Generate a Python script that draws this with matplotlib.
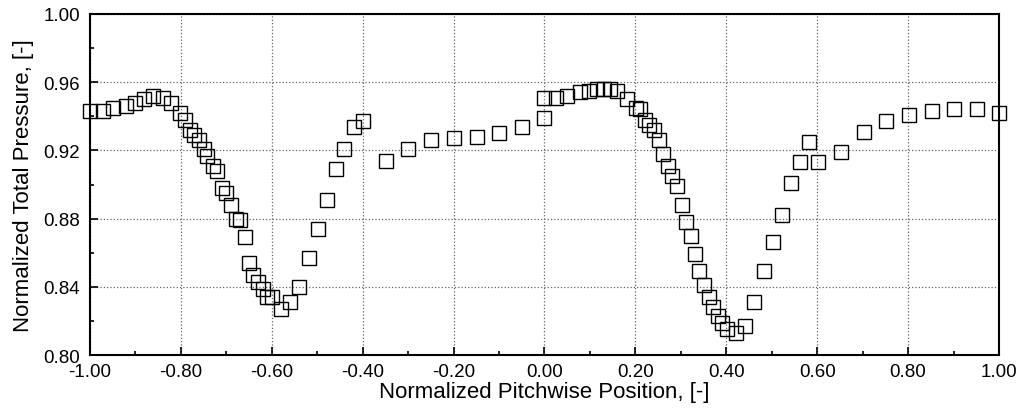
import numpy as np
import matplotlib.pyplot as plt
from matplotlib.ticker import MultipleLocator, FormatStrFormatter

plt.rcParams['font.family'] = ['Liberation Sans', 'DejaVu Sans']

pos = [-1.000, -0.971, -0.950, -0.921, -0.901, -0.880, -0.861, -0.840, -0.822, -0.802,
       -0.790, -0.780, -0.770, -0.760, -0.750, -0.742, -0.730, -0.720, -0.710, -0.700,
       -0.690, -0.679, -0.670, -0.659, -0.650, -0.641, -0.631, -0.620, -0.610, -0.599,
       -0.580, -0.559, -0.539, -0.519, -0.499, -0.479, -0.459, -0.440, -0.419, -0.399,
       -0.349, -0.300, -0.249, -0.200, -0.149, -0.099, -0.049, 0.000, 0.000, 0.026,
       0.050, 0.078, 0.099, 0.115, 0.130, 0.145, 0.160, 0.181, 0.202, 0.211,
       0.222, 0.231, 0.242, 0.251, 0.261, 0.271, 0.281, 0.292, 0.302, 0.312,
       0.322, 0.332, 0.341, 0.352, 0.361, 0.370, 0.381, 0.390, 0.401, 0.421,
       0.441, 0.461, 0.482, 0.502, 0.522, 0.542, 0.562, 0.582, 0.602, 0.652,
       0.702, 0.752, 0.802, 0.852, 0.902, 0.952, 1.000]
ptot = [0.943, 0.943, 0.945, 0.946, 0.948, 0.950, 0.952, 0.951, 0.948, 0.942,
        0.938, 0.932, 0.929, 0.926, 0.921, 0.917, 0.911, 0.908, 0.898, 0.895,
        0.888, 0.880, 0.879, 0.869, 0.854, 0.847, 0.843, 0.839, 0.834, 0.834,
        0.827, 0.831, 0.840, 0.857, 0.874, 0.891, 0.909, 0.921, 0.934, 0.937,
        0.914, 0.921, 0.926, 0.927, 0.928, 0.930, 0.934, 0.939, 0.951, 0.951,
        0.952, 0.954, 0.955, 0.956, 0.956, 0.956, 0.955, 0.950, 0.945, 0.944,
        0.938, 0.935, 0.932, 0.926, 0.918, 0.911, 0.905, 0.899, 0.888, 0.878,
        0.870, 0.859, 0.849, 0.841, 0.834, 0.828, 0.823, 0.819, 0.815, 0.813,
        0.817, 0.831, 0.849, 0.866, 0.882, 0.901, 0.913, 0.925, 0.913, 0.919,
        0.931, 0.937, 0.941, 0.943, 0.944, 0.944, 0.942]

fig = plt.figure(figsize=(10.22, 4.14), dpi=100)
ax = fig.add_axes([0.088, 0.140, 0.8895, 0.8238])

ax.plot(pos, ptot, 's', markerfacecolor='none', markeredgecolor='black',
        markersize=9.6, markeredgewidth=1.0, clip_on=False, zorder=3)

ax.set_xlim(-1, 1)
ax.set_ylim(0.80, 1.00)
ax.xaxis.set_major_locator(MultipleLocator(0.2))
ax.xaxis.set_minor_locator(MultipleLocator(0.1))
ax.yaxis.set_major_locator(MultipleLocator(0.04))
ax.yaxis.set_minor_locator(MultipleLocator(0.02))
ax.xaxis.set_major_formatter(FormatStrFormatter('%.2f'))
ax.yaxis.set_major_formatter(FormatStrFormatter('%.2f'))
ax.tick_params(which='both', direction='in', top=False, right=False, labelsize=13.5, width=1.2)
ax.tick_params(which='major', length=6)
ax.tick_params(which='minor', length=3)
ax.tick_params(axis='x', which='major', pad=6)
ax.tick_params(axis='y', which='major', pad=7)
for s in ax.spines.values():
    s.set_linewidth(1.5)

ax.grid(which='major', color='#666666', linestyle=':', linewidth=0.9)
ax.set_xlabel('Normalized Pitchwise Position, [-]', fontsize=16, labelpad=0.5)
ax.set_ylabel('Normalized Total Pressure, [-]', fontsize=16, labelpad=6.5)

plt.savefig('out.png', dpi=100)
